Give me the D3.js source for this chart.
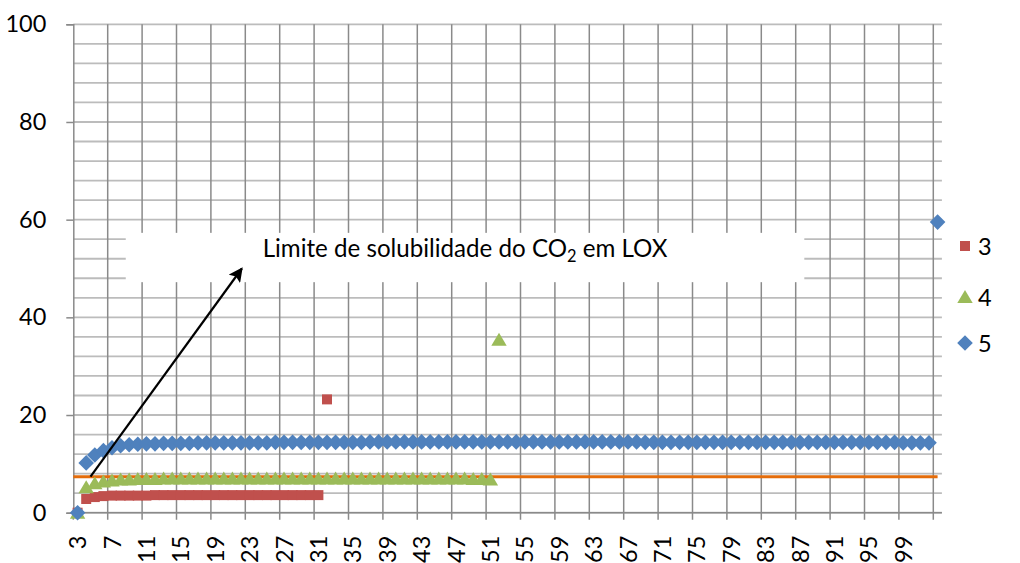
<!DOCTYPE html>
<html>
<head>
<meta charset="utf-8">
<script src="https://cdn.jsdelivr.net/npm/d3@7/dist/d3.min.js"></script>
<style>
	body{margin:0; background:white;}
	#chart{width:1020px; height:563px;}
	text{font-family: Lato, "Open Sans", sans-serif; fill:#000;}
</style>
</head>
<body>
<div id="chart"></div>
<script>
// categories 3..103 (last one has no label shown)
const categories = d3.range(3, 104);
const xTickLabels = ["3","7","11","15","19","23","27","31","35","39","43","47","51","55","59","63","67","71","75","79","83","87","91","95","99"];
const yTicks = [0, 20, 40, 60, 80, 100];

// series values by category index
const serie3 = [0, 2.8, 3.2, 3.4, 3.5, 3.5, 3.5, 3.5, 3.5, 3.6,
	3.6, 3.6, 3.6, 3.6, 3.6, 3.6, 3.6, 3.6, 3.6, 3.6,
	3.6, 3.6, 3.6, 3.6, 3.6, 3.6, 3.6, 3.6, 3.6, 23.2];
const serie4 = [0, 5.2, 6.0, 6.4, 6.6, 6.8, 6.8, 6.9, 6.9, 6.9,
	7.0, 7.0, 7.0, 7.0, 7.0, 7.0, 7.0, 7.0, 7.0, 7.0,
	7.0, 7.0, 7.0, 7.0, 7.0, 7.0, 7.0, 7.0, 7.0, 7.0,
	7.0, 7.0, 7.0, 7.0, 7.0, 7.0, 7.0, 7.0, 7.0, 7.0,
	7.0, 7.0, 7.0, 7.0, 7.0, 7.0, 6.9, 6.9, 6.8, 35.4];
const serie5 = [0, 10.2, 11.8, 12.7, 13.3, 13.7, 13.9, 14.0, 14.1, 14.1,
	14.2, 14.2, 14.2, 14.2, 14.3, 14.3, 14.3, 14.3, 14.3, 14.3,
	14.3, 14.3, 14.3, 14.4, 14.4, 14.4, 14.4, 14.4, 14.4, 14.4,
	14.4, 14.4, 14.4, 14.4, 14.5, 14.5, 14.5, 14.5, 14.5, 14.5,
	14.5, 14.5, 14.5, 14.5, 14.5, 14.5, 14.5, 14.5, 14.5, 14.5,
	14.5, 14.5, 14.5, 14.5, 14.5, 14.5, 14.5, 14.5, 14.5, 14.5,
	14.5, 14.5, 14.5, 14.5, 14.5, 14.5, 14.4, 14.4, 14.4, 14.4,
	14.4, 14.4, 14.4, 14.4, 14.4, 14.4, 14.4, 14.4, 14.4, 14.4,
	14.4, 14.4, 14.4, 14.4, 14.4, 14.4, 14.4, 14.4, 14.4, 14.4,
	14.4, 14.4, 14.4, 14.4, 14.4, 14.4, 14.3, 14.3, 14.3, 14.3,
	59.5];
const seriesNames = ["3", "4", "5"];

// solubility limit line (value) and annotation positions in data units
const limitValue = 7.37;
const arrowFrom = {i: 1.5, v: 7.37}, arrowTo = {i: 19.1, v: 50};
const boxFrom = {i: 5.6, v: 57.3}, boxTo = {i: 84.5, v: 47.2};

const colors = {s3: "#c0504d", s4: "#9bbb59", s5: "#4f81bd", limit: "#e46c0a",
	gridH: "#bcbcbc", gridV: "#8a8a8a"};

let w = 1020, h = 563,
	margin = {top: 24.3, left: 73.3, bottom: 563 - 512.7},
	plotRight = 941.9,
	fontSize = 23.5;

let svg = d3.select("#chart").append("svg").attr("width", w).attr("height", h);

let x = d3.scaleBand().domain(categories.map((c, i) => i)).range([margin.left, plotRight]).padding(0),
	bw = x.bandwidth(),
	xi = d3.scaleLinear().domain([0, 1]).range([margin.left + bw/2, margin.left + bw*1.5]), // index -> centre
	y = d3.scaleLinear().domain([0, 100]).range([h - margin.bottom, margin.top]);

let cx = i => x(i) + bw/2;

// horizontal gridlines every 4
let gridG = svg.append("g");
gridG.selectAll("line.h").data(d3.range(0, 101, 4)).enter().append("line")
	.attr("x1", margin.left).attr("x2", plotRight)
	.attr("y1", d => y(d)).attr("y2", d => y(d))
	.attr("stroke", colors.gridH).attr("stroke-width", 1.8);

// vertical gridlines every 4 categories (boundaries), extending below as ticks
let vx = d => d < categories.length ? x(d) : x(d - 1) + bw;
gridG.selectAll("line.v").data(d3.range(4, 101, 4)).enter().append("line")
	.attr("x1", vx).attr("x2", vx)
	.attr("y1", y(100)).attr("y2", y(0) + 7)
	.attr("stroke", colors.gridV).attr("stroke-width", 1.5);

// y axis
let yAxis = d3.axisLeft(y).tickValues(yTicks).tickSize(7).tickFormat(d3.format("d")).tickPadding(20);
let yG = svg.append("g").attr("transform", "translate(" + margin.left + ",0)").call(yAxis);
yG.select(".domain").attr("stroke", colors.gridV).attr("stroke-width", 1.5);
yG.selectAll(".tick line").attr("stroke", colors.gridV).attr("stroke-width", 1.5);
yG.selectAll(".tick text").style("font-size", fontSize + "px").attr("font-family", null).attr("fill", "#000");

// x axis line + first tick
svg.append("line").attr("x1", margin.left).attr("x2", plotRight).attr("y1", y(0)).attr("y2", y(0))
	.attr("stroke", colors.gridV).attr("stroke-width", 1.5);
svg.append("line").attr("x1", margin.left).attr("x2", margin.left).attr("y1", y(0)).attr("y2", y(0) + 7)
	.attr("stroke", colors.gridV).attr("stroke-width", 1.5);

// x tick labels, rotated
svg.append("g").selectAll("text").data(xTickLabels).enter().append("text")
	.attr("transform", d => "translate(" + (cx(categories.indexOf(+d)) + 8.5) + "," + (y(0) + 23) + ") rotate(-90)")
	.attr("text-anchor", "end")
	.style("font-size", fontSize + "px")
	.text(d => d);

// solubility limit line
svg.append("line")
	.attr("x1", margin.left).attr("x2", cx(categories.length - 1))
	.attr("y1", y(limitValue)).attr("y2", y(limitValue))
	.attr("stroke", colors.limit).attr("stroke-width", 3);

// markers
function diamond(r){
	return "M0," + (-r) + "L" + r + ",0L0," + r + "L" + (-r) + ",0Z";
}
function triangle(r){
	return "M0," + (-r) + "L" + (r*1.1) + "," + (r*0.85) + "L" + (-r*1.1) + "," + (r*0.85) + "Z";
}
let sym = {
	s3: () => d3.symbol().type(d3.symbolSquare).size(100)(),
	s4: () => triangle(7),
	s5: () => diamond(7.8)
};
function drawSeries(arr, key){
	svg.append("g").selectAll("path").data(arr).enter().append("path")
		.attr("transform", (d, i) => "translate(" + cx(i) + "," + y(d) + ")")
		.attr("d", sym[key]())
		.style("fill", colors[key]);
}
drawSeries(serie3, "s3");
drawSeries(serie4, "s4");
drawSeries(serie5, "s5");

// annotation box
svg.append("rect")
	.attr("x", xi(boxFrom.i)).attr("y", y(boxFrom.v))
	.attr("width", xi(boxTo.i) - xi(boxFrom.i)).attr("height", y(boxTo.v) - y(boxFrom.v))
	.style("fill", "white");
let note = svg.append("text")
	.attr("x", (xi(boxFrom.i) + xi(boxTo.i))/2)
	.attr("y", y(boxFrom.v) + 24)
	.attr("text-anchor", "middle")
	.style("font-size", "22px");
note.append("tspan").text("Limite de solubilidade do CO");
note.append("tspan").attr("dy", 5).style("font-size", "15px").text("2");
note.append("tspan").attr("dy", -5).text(" em LOX");
// fit text to ~405px wide like the original
let tl = note.node().getComputedTextLength();
let fs = 22 * 405 / tl;
note.style("font-size", fs + "px");
note.select("tspan:nth-child(2)").style("font-size", (fs*0.68) + "px");

// arrow
svg.append("defs").append("marker")
	.attr("id", "ah").attr("viewBox", "0 0 10 10").attr("refX", 9).attr("refY", 5)
	.attr("markerWidth", 6.5).attr("markerHeight", 6.5).attr("orient", "auto")
	.append("path").attr("d", "M0,0 L10,5 L0,10 L2,5 Z").style("fill", "#000");
svg.append("line")
	.attr("x1", xi(arrowFrom.i)).attr("y1", y(arrowFrom.v))
	.attr("x2", xi(arrowTo.i)).attr("y2", y(arrowTo.v))
	.attr("stroke", "#000").attr("stroke-width", 2.2)
	.attr("marker-end", "url(#ah)");

// legend
let legendG = svg.append("g");
let legendY = [246, 297, 343], legendKeys = ["s3", "s4", "s5"];
seriesNames.forEach(function(name, ni){
	let g = legendG.append("g").attr("transform", "translate(965," + legendY[ni] + ")");
	g.append("path")
		.attr("d", sym[legendKeys[ni]]())
		.style("fill", colors[legendKeys[ni]]);
	g.append("text").attr("x", 13).attr("dominant-baseline", "central")
		.style("font-size", fontSize + "px").text(name);
});
</script>
</body>
</html>
